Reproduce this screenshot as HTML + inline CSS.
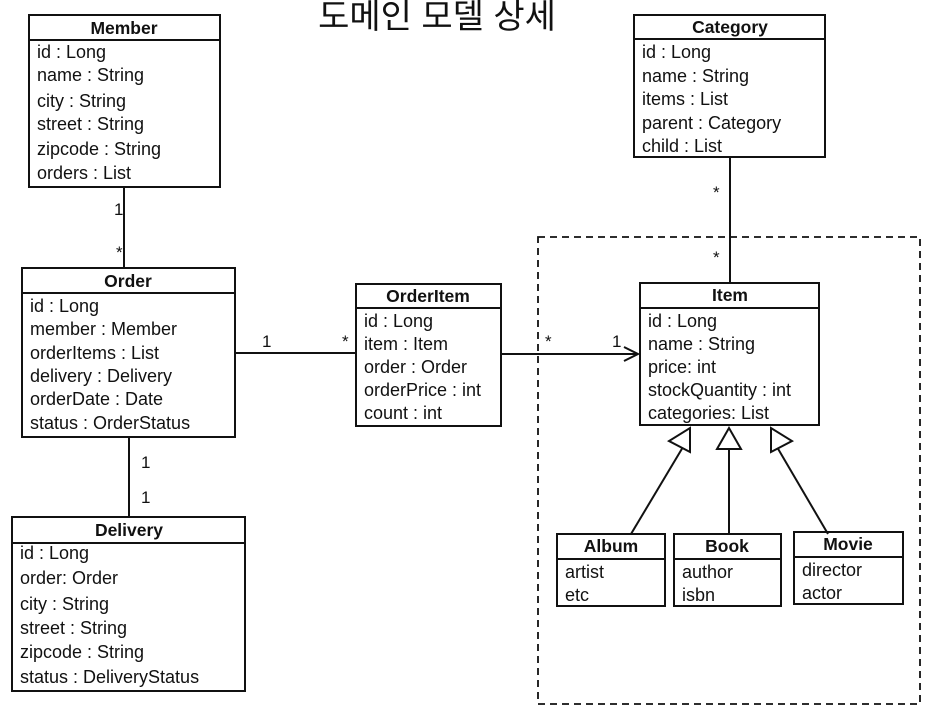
<!DOCTYPE html>
<html><head><meta charset="utf-8"><style>
html,body{margin:0;padding:0;background:#fff;}
svg{display:block}
text{font-family:"Liberation Sans","Noto Sans CJK KR",sans-serif;fill:#111;}
.h{font-weight:bold;font-size:17.5px;text-anchor:middle}
.a{font-size:18px}
.m{font-size:17px}
</style></head><body>
<svg width="948" height="728" viewBox="0 0 948 728">
<g stroke="#111" stroke-width="2" fill="none">
<rect x="538" y="237" width="382" height="467" stroke-dasharray="7,5" stroke-width="1.8"/>
<rect x="29" y="15" width="191" height="172" fill="#fff"/><line x1="29" y1="40" x2="220" y2="40"/>
<rect x="22" y="268" width="213" height="169" fill="#fff"/><line x1="22" y1="293" x2="235" y2="293"/>
<rect x="12" y="517" width="233" height="174" fill="#fff"/><line x1="12" y1="543" x2="245" y2="543"/>
<rect x="356" y="284" width="145" height="142" fill="#fff"/><line x1="356" y1="308" x2="501" y2="308"/>
<rect x="634" y="15" width="191" height="142" fill="#fff"/><line x1="634" y1="39" x2="825" y2="39"/>
<rect x="640" y="283" width="179" height="142" fill="#fff"/><line x1="640" y1="308" x2="819" y2="308"/>
<rect x="557" y="534" width="108" height="72" fill="#fff"/><line x1="557" y1="559" x2="665" y2="559"/>
<rect x="674" y="534" width="107" height="72" fill="#fff"/><line x1="674" y1="559" x2="781" y2="559"/>
<rect x="794" y="532" width="109" height="72" fill="#fff"/><line x1="794" y1="557" x2="903" y2="557"/>
<line x1="124" y1="187" x2="124" y2="268"/>
<line x1="129" y1="437" x2="129" y2="517"/>
<line x1="235" y1="353" x2="356" y2="353"/>
<line x1="501" y1="354" x2="638" y2="354"/>
<polyline points="624,347 638,354 624,361"/>
<line x1="730" y1="157" x2="730" y2="283"/>
<line x1="631" y1="534" x2="683" y2="447"/>
<polygon points="690,428 690,452 669,441" fill="#fff"/>
<line x1="729" y1="534" x2="729" y2="449"/>
<polygon points="729,428 717,449 741,449" fill="#fff"/>
<line x1="828" y1="534" x2="777" y2="447"/>
<polygon points="771,428 771,452 792,441" fill="#fff"/>
</g>
<text x="437" y="28" style="font-size:34px;text-anchor:middle">도메인 모델 상세</text>
<text class="h" x="124" y="34">Member</text>
<g class="a"><text x="37" y="58">id : Long</text><text x="37" y="81">name : String</text><text x="37" y="107">city : String</text><text x="37" y="130">street : String</text><text x="37" y="155">zipcode : String</text><text x="37" y="179">orders : List</text></g>
<text class="h" x="128" y="287">Order</text>
<g class="a"><text x="30" y="312">id : Long</text><text x="30" y="335">member : Member</text><text x="30" y="359">orderItems : List</text><text x="30" y="382">delivery : Delivery</text><text x="30" y="405">orderDate : Date</text><text x="30" y="429">status : OrderStatus</text></g>
<text class="h" x="129" y="536">Delivery</text>
<g class="a"><text x="20" y="559">id : Long</text><text x="20" y="584">order: Order</text><text x="20" y="610">city : String</text><text x="20" y="634">street : String</text><text x="20" y="658">zipcode : String</text><text x="20" y="683">status : DeliveryStatus</text></g>
<text class="h" x="428" y="302">OrderItem</text>
<g class="a"><text x="364" y="327">id : Long</text><text x="364" y="350">item : Item</text><text x="364" y="373">order : Order</text><text x="364" y="396">orderPrice : int</text><text x="364" y="419">count : int</text></g>
<text class="h" x="730" y="33">Category</text>
<g class="a"><text x="642" y="58">id : Long</text><text x="642" y="82">name : String</text><text x="642" y="105">items : List</text><text x="642" y="129">parent : Category</text><text x="642" y="152">child : List</text></g>
<text class="h" x="730" y="301">Item</text>
<g class="a"><text x="648" y="327">id : Long</text><text x="648" y="350">name : String</text><text x="648" y="373">price: int</text><text x="648" y="396">stockQuantity : int</text><text x="648" y="419">categories: List</text></g>
<text class="h" x="611" y="552">Album</text>
<g class="a"><text x="565" y="578">artist</text><text x="565" y="601">etc</text></g>
<text class="h" x="727" y="552">Book</text>
<g class="a"><text x="682" y="578">author</text><text x="682" y="601">isbn</text></g>
<text class="h" x="848" y="550">Movie</text>
<g class="a"><text x="802" y="576">director</text><text x="802" y="599">actor</text></g>
<g class="m">
<text x="114" y="215">1</text><text x="116" y="258">*</text>
<text x="141" y="468">1</text><text x="141" y="503">1</text>
<text x="262" y="347">1</text><text x="342" y="347">*</text>
<text x="545" y="347">*</text><text x="612" y="347">1</text>
<text x="713" y="198">*</text><text x="713" y="263">*</text>
</g>
</svg>
</body></html>
